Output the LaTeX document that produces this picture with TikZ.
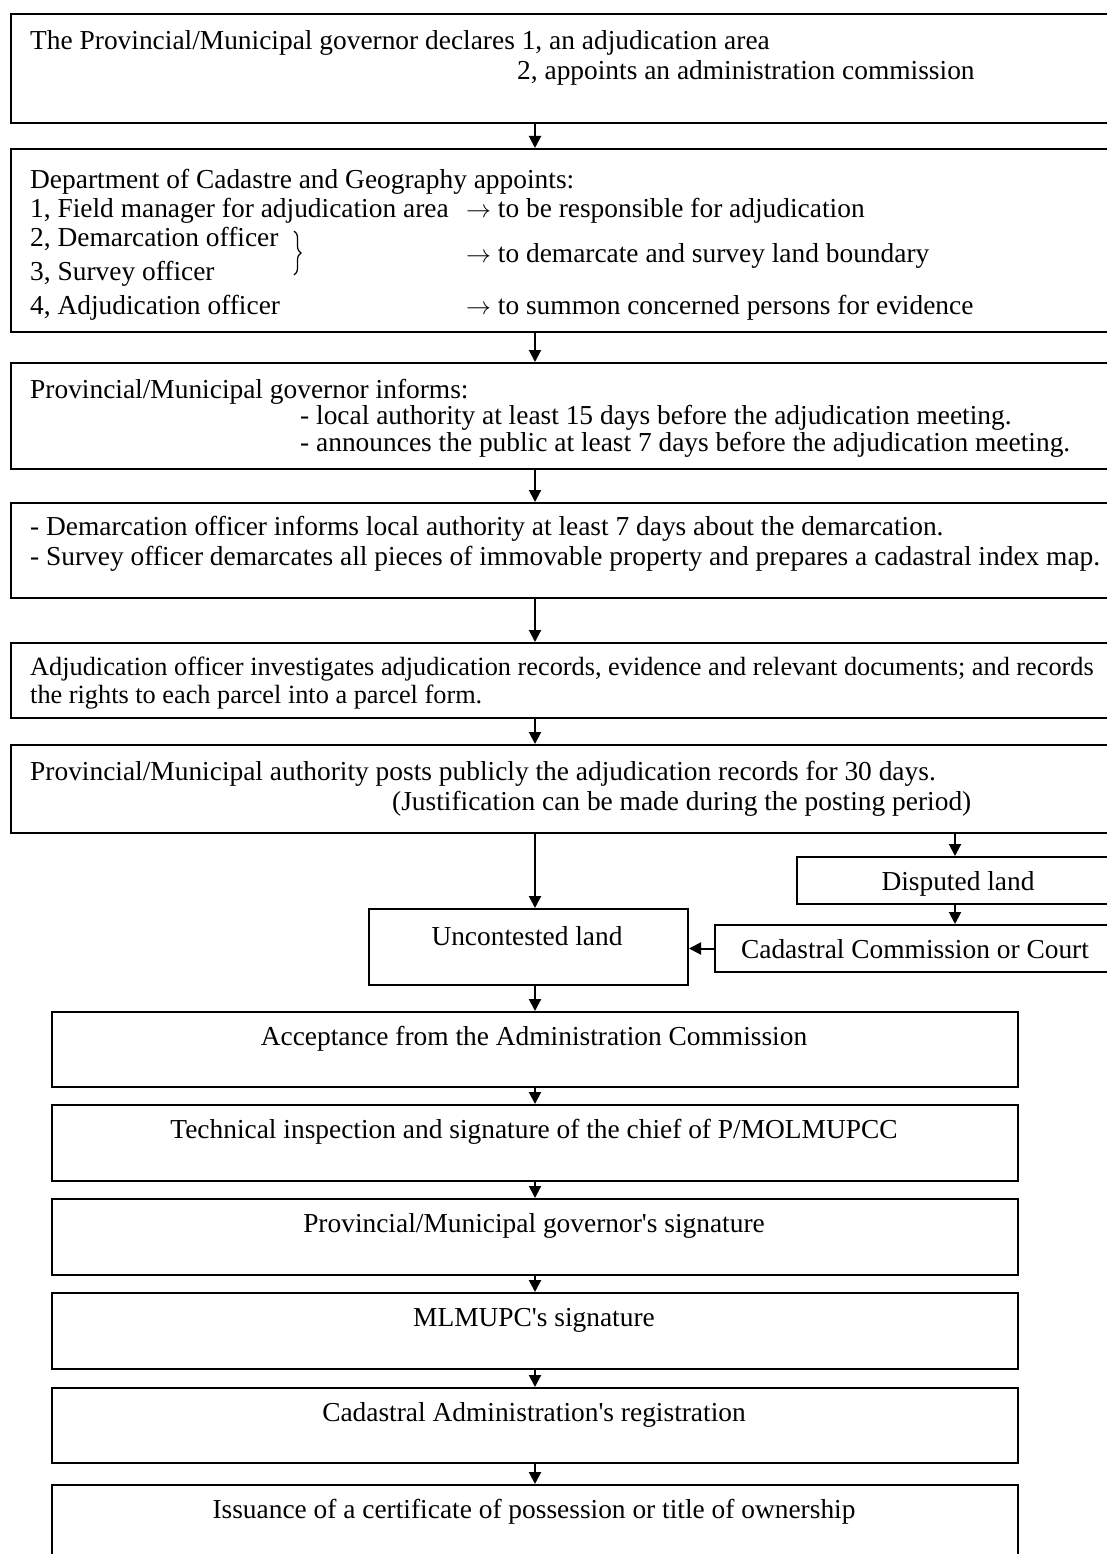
\documentclass[tikz,border=0pt]{standalone}
\usepackage{fontspec}
\setmainfont{Liberation Serif}
\usetikzlibrary{arrows.meta,decorations.pathreplacing}
\begin{document}
\begin{tikzpicture}[x=1pt,y=-1pt,
  box/.style={draw, line width=2pt, rectangle, inner sep=0pt, anchor=north west},
  txt/.style={inner sep=0pt, anchor=base west, font=\fontsize{27.4}{32}\selectfont},
  ctxt/.style={inner sep=0pt, anchor=base, font=\fontsize{27.4}{32}\selectfont},
  arr/.style={line width=2pt, -{Triangle[width=12pt,length=12pt]}}]
\useasboundingbox (0,0) rectangle (1107,1554);
\clip (0,0) rectangle (1107,1554);
\fill[white] (0,0) rectangle (1107,1554);
\coordinate (ax) at (535,0);
% main boxes
\node[box, minimum width=1102pt, minimum height=109pt] (b1) at (10,13) {};
\node[box, minimum width=1102pt, minimum height=183pt] (b2) at (10,148) {};
\node[box, minimum width=1102pt, minimum height=106pt] (b3) at (10,362) {};
\node[box, minimum width=1102pt, minimum height=95pt] (b4) at (10,502) {};
\node[box, minimum width=1102pt, minimum height=75pt] (b5) at (10,642) {};
\node[box, minimum width=1102pt, minimum height=88pt] (b6) at (10,744) {};
\node[box, minimum width=316pt, minimum height=47pt] (dis) at (796,856) {};
\node[box, minimum width=398pt, minimum height=47pt] (cc) at (714,924) {};
\node[box, minimum width=319pt, minimum height=76pt] (un) at (368,908) {};
\node[box, minimum width=966pt, minimum height=75pt] (acc) at (51,1011) {};
\node[box, minimum width=966pt, minimum height=76pt] (tech) at (51,1104) {};
\node[box, minimum width=966pt, minimum height=76pt] (gov) at (51,1198) {};
\node[box, minimum width=966pt, minimum height=76pt] (ml) at (51,1292) {};
\node[box, minimum width=966pt, minimum height=75pt] (cad) at (51,1387) {};
\node[box, minimum width=966pt, minimum height=90pt] (iss) at (51,1484) {};
% texts box 1
\node[txt] (t1a) at (30,50) {The Provincial/Municipal governor declares 1, an adjudication area};
\node[txt] (t1b) at (517,80) {2, appoints an administration commission};
% box 2
\node[txt] (t2a) at (30,189) {Department of Cadastre and Geography appoints:};
\node[txt] (t2b) at (30,218) {1, Field manager for adjudication area};
\node[txt] (t2c) at (30,247) {2, Demarcation officer};
\node[txt] (t2d) at (30,280) {3, Survey officer};
\node[txt] (t2e) at (30,314) {4, Adjudication officer};
\node[txt] (t2f) at (466,218) {$\rightarrow$ to be responsible for adjudication};
\node[txt] (t2g) at (466,262) {$\rightarrow$ to demarcate and survey land boundary};
\node[txt] (t2h) at (466,314) {$\rightarrow$ to summon concerned persons for evidence};
\draw[line width=1.2pt, decorate, decoration={brace, amplitude=7pt}] (294,231) -- (294,275);
% box 3
\node[txt] (t3a) at (30,398) {Provincial/Municipal governor informs:};
\node[txt] (t3b) at (300,424) {- local authority at least 15 days before the adjudication meeting.};
\node[txt] (t3c) at (300,451) {- announces the public at least 7 days before the adjudication meeting.};
% box 4
\node[txt] (t4a) at (30,535) {- Demarcation officer informs local authority at least 7 days about the demarcation.};
\node[txt] (t4b) at (30,565) {- Survey officer demarcates all pieces of immovable property and prepares a cadastral index map.};
% box 5
\node[txt, font=\fontsize{26.3}{31}\selectfont] (t5a) at (30,675) {Adjudication officer investigates adjudication records, evidence and relevant documents; and records};
\node[txt, font=\fontsize{26.3}{31}\selectfont] (t5b) at (30,703) {the rights to each parcel into a parcel form.};
% box 6
\node[txt] (t6a) at (30,780) {Provincial/Municipal authority posts publicly the adjudication records for 30 days.};
\node[txt] (t6b) at (392,810) {(Justification can be made during the posting period)};
% side boxes
\node[ctxt] (tdis) at (958,890) {Disputed land};
\node[ctxt] (tcc) at (915,958) {Cadastral Commission or Court};
\node[ctxt] (tun) at (527,945) {Uncontested land};
% bottom boxes
\node[ctxt] (tacc) at (534,1045) {Acceptance from the Administration Commission};
\node[ctxt] (ttech) at (534,1138) {Technical inspection and signature of the chief of P/MOLMUPCC};
\node[ctxt] (tgov) at (534,1232) {Provincial/Municipal governor\textquotesingle s signature};
\node[ctxt] (tml) at (534,1326) {MLMUPC\textquotesingle s signature};
\node[ctxt] (tcad) at (534,1421) {Cadastral Administration\textquotesingle s registration};
\node[ctxt] (tiss) at (534,1518) {Issuance of a certificate of possession or title of ownership};
% arrows
\draw[arr] (b1.south -| ax) -- (b2.north -| ax);
\draw[arr] (b2.south -| ax) -- (b3.north -| ax);
\draw[arr] (b3.south -| ax) -- (b4.north -| ax);
\draw[arr] (b4.south -| ax) -- (b5.north -| ax);
\draw[arr] (b5.south -| ax) -- (b6.north -| ax);
\draw[arr] (b6.south -| ax) -- (un.north -| ax);
\draw[arr] (b6.south -| dis.north) -- (dis.north);
\draw[arr] (dis.south) -- (cc.north -| dis.south);
\draw[arr] (cc.west) -- (cc.west -| un.east);
\draw[arr] (un.south -| ax) -- (acc.north -| ax);
\draw[arr] (acc.south -| ax) -- (tech.north -| ax);
\draw[arr] (tech.south -| ax) -- (gov.north -| ax);
\draw[arr] (gov.south -| ax) -- (ml.north -| ax);
\draw[arr] (ml.south -| ax) -- (cad.north -| ax);
\draw[arr] (cad.south -| ax) -- (iss.north -| ax);
\end{tikzpicture}
\end{document}
